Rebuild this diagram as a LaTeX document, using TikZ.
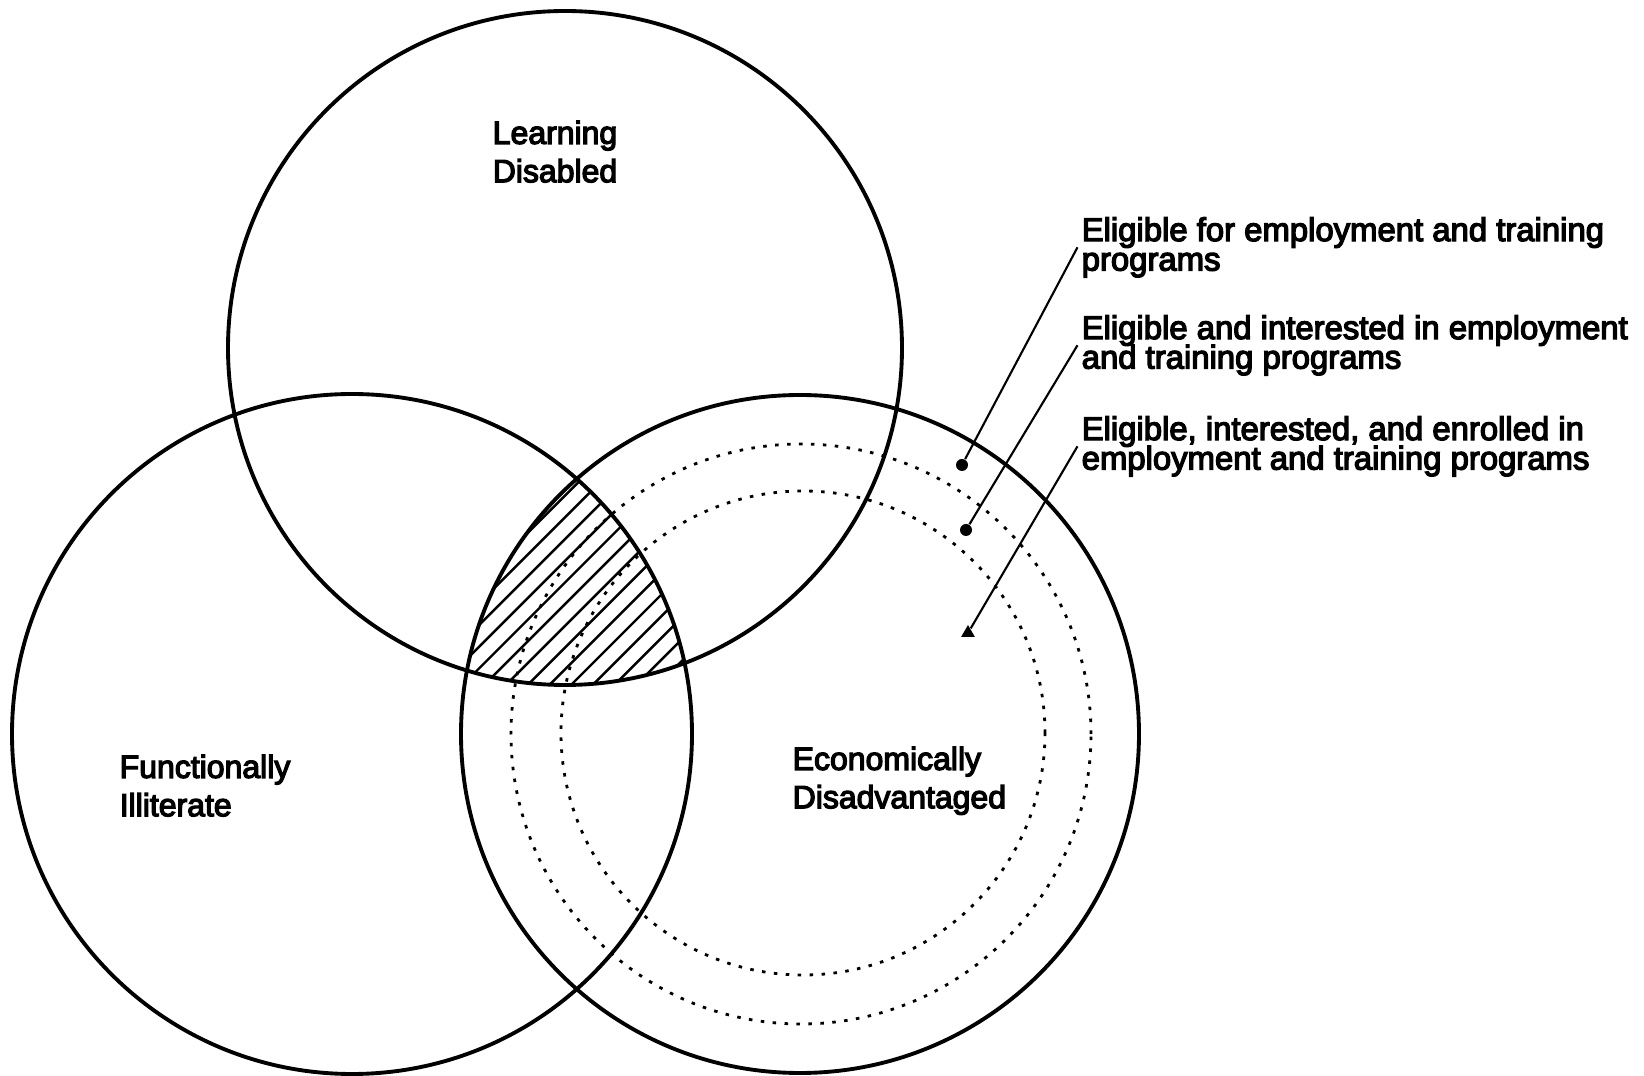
\documentclass[tikz,border=0pt]{standalone}
\usepackage{fontspec}
\newfontfamily\vennfont[FakeBold=4]{Liberation Sans}
\newcommand\tightskip{\lineskiplimit=-6pt\relax}
\usetikzlibrary{arrows.meta,shapes.geometric}

\begin{document}
\begin{tikzpicture}[
  venn/.style={line width=1.1pt},
  ring/.style={line width=0.8pt, dash pattern=on 1pt off 2.4pt},
  lead/.style={line width=0.6pt},
  setlabel/.style={font={\vennfont\fontsize{9.1}{10.9}\selectfont}, align=left, inner sep=0pt},
  note/.style={font={\vennfont\fontsize{9.35}{8.4}\selectfont\tightskip}, align=left, inner sep=1pt, anchor=north west},
  dotmark/.style={circle, fill, inner sep=0pt, minimum size=1.2mm},
  tipmark/.style={regular polygon, regular polygon sides=3, fill, inner sep=0pt, minimum size=1.6mm}
]
  \useasboundingbox (0,0) rectangle (16.44,10.76);

  \coordinate (LD) at (5.65,7.28);
  \coordinate (FI) at (3.52,3.42);
  \coordinate (ED) at (8.00,3.42);

  % common part of the three sets
  \begin{scope}
    \clip (LD) circle (3.37);
    \clip (FI) circle (3.40);
    \clip (ED) circle (3.39);
    \foreach \k in {-0.37,-0.153,...,3.1} \draw[line width=0.7pt] (\k,0) -- ++(10,10);
  \end{scope}

  \draw[venn] (LD) circle (3.37);
  \draw[venn] (FI) circle (3.40);
  \draw[venn] (ED) circle (3.39);
  \draw[ring] (8.01,3.42) circle (2.90);
  \draw[ring] (8.03,3.43) circle (2.42);

  \node[setlabel, anchor=north, align=center] (ldlab) at (5.55,9.56) {Learning\\Disabled};
  \node[setlabel, anchor=north west] (filab) at (1.19,3.22) {Functionally\\Illiterate};
  \node[setlabel, anchor=north west] (edlab) at (7.92,3.30) {Economically\\Disadvantaged};

  \node[note] (elig) at (10.775,8.63) {Eligible for employment and training\\programs};
  \node[note] (intr) at (10.775,7.65) {Eligible and interested in employment\\and training programs};
  \node[note] (enrl) at (10.775,6.64) {Eligible, interested, and enrolled in\\employment and training programs};

  \node[dotmark] (d1) at (9.62,6.11) {};
  \node[dotmark] (d2) at (9.66,5.46) {};
  \node[tipmark] (d3) at (9.68,4.43) {};
  \draw[lead] (d1) -- (elig.west);
  \draw[lead] (d2) -- (intr.west);
  \draw[lead] (d3) -- (enrl.west);
\end{tikzpicture}
\end{document}
